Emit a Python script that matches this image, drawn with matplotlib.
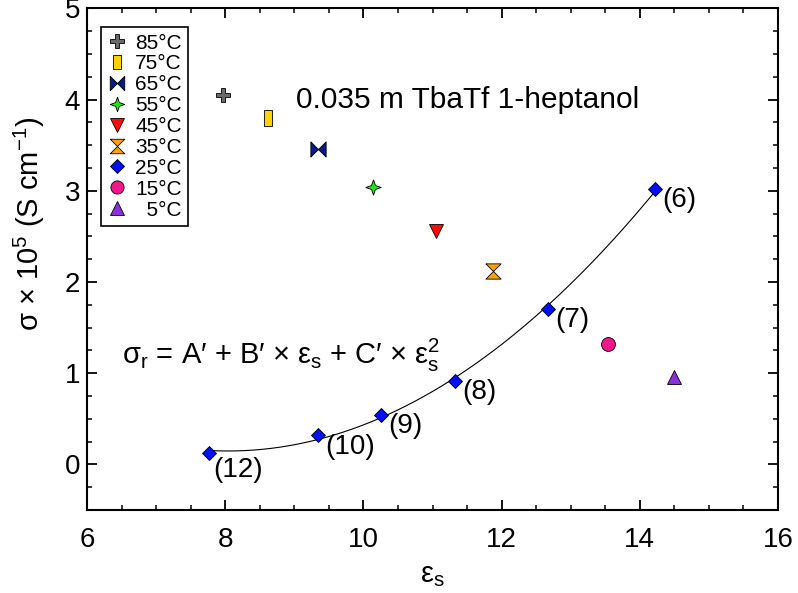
#!/usr/bin/env python3
"""
Conductivity of 0.035 m TbaTf in 1-heptanol against solvent permittivity,
with the 25 °C n-alkanol series and its quadratic fit.

Output: out.png
"""

import matplotlib
matplotlib.use("Agg")
import matplotlib.pyplot as plt
from matplotlib.ticker import MultipleLocator
import numpy as np

# ---- data ------------------------------------------------------------------
# single-temperature points for 1-heptanol
temp_labels = ["85°C", "75°C", "65°C", "55°C", "45°C", "35°C", "15°C", "  5°C"]
temp_eps    = [7.97, 8.62, 9.35, 10.14, 11.05, 11.87, 13.54, 14.49]
temp_sigma  = [4.05, 3.80, 3.46, 3.04, 2.56, 2.12, 1.32, 0.96]

# 25 °C series, one point per 1-alkanol (carbon number)
chain_labels = ["(6)", "(7)", "(8)", "(9)", "(10)", "(12)"]
alk_eps      = [14.22, 12.67, 11.32, 10.25, 9.34, 7.76]
alk_sigma    = [3.02, 1.705, 0.912, 0.544, 0.318, 0.124]

x_ticks = [6, 8, 10, 12, 14, 16]
y_ticks = [0, 1, 2, 3, 4, 5]

# ---- marker shapes ---------------------------------------------------------
BAR       = [(-0.5, -1), (0.5, -1), (0.5, 1), (-0.5, 1), (-0.5, -1)]
BOWTIE    = [(-1, -1), (-1, 1), (0, 0), (1, 1), (1, -1), (0, 0), (-1, -1)]
HOURGLASS = [(-1, 1), (1, 1), (0, 0), (1, -1), (-1, -1), (0, 0), (-1, 1)]
STAR4     = [(0, 1), (0.26, 0.26), (1, 0), (0.26, -0.26), (0, -1),
             (-0.26, -0.26), (-1, 0), (-0.26, 0.26), (0, 1)]

temp_styles = [
    dict(marker="P", color="#6a6a6a", ms=10.5),
    dict(marker=BAR, color="#ffd200", ms=11),
    dict(marker=BOWTIE, color="#0a1a85", ms=11),
    dict(marker=STAR4, color="#1fe51f", ms=11),
    dict(marker="v", color="#ff0a0a", ms=10.5),
    dict(marker=HOURGLASS, color="#ffa200", ms=11),
    dict(marker="o", color="#f0178a", ms=10),
    dict(marker="^", color="#8a32d8", ms=10),
]
alk_style = dict(marker="D", color="#0010f5", ms=7.6)

plt.rcParams.update({
    "font.family":       ["Liberation Sans", "DejaVu Sans"],
    "mathtext.default":  "regular",
    "axes.linewidth":    1.5,
    "xtick.direction":   "in",
    "ytick.direction":   "in",
    "xtick.top":         True,
    "ytick.right":       True,
    "xtick.major.size":  7.2,
    "ytick.major.size":  7.2,
    "xtick.minor.size":  3.3,
    "ytick.minor.size":  3.3,
    "xtick.major.width": 1.3,
    "ytick.major.width": 1.3,
    "xtick.minor.width": 1.1,
    "ytick.minor.width": 1.1,
    "xtick.labelsize":   20,
    "ytick.labelsize":   20,
})

fig = plt.figure(figsize=(7.98, 5.93), dpi=100)
ax = fig.add_axes([0.109, 0.140, 0.866, 0.8457])

# ---- fit through the 25 °C alkanol series ---------------------------------
coef = np.polyfit(alk_eps, alk_sigma, 2)
xf = np.linspace(min(alk_eps), max(alk_eps), 200)
ax.plot(xf, np.polyval(coef, xf), color="black", lw=0.8, zorder=2)

handles = []
for i, (lab, st) in enumerate(zip(temp_labels, temp_styles)):
    h, = ax.plot(temp_eps[i], temp_sigma[i], ls="none", marker=st["marker"],
                 ms=st["ms"], mfc=st["color"], mec="black", mew=0.6,
                 label=lab, zorder=3)
    handles.append(h)

h25, = ax.plot(alk_eps, alk_sigma, ls="none", marker=alk_style["marker"],
               ms=alk_style["ms"], mfc=alk_style["color"], mec="black",
               mew=0.6, label="25°C", zorder=3)
handles.insert(6, h25)

for lab, x, y in zip(chain_labels, alk_eps, alk_sigma):
    off = (3, -12) if lab == "(12)" else (5.5, -8)
    ax.annotate(lab, (x, y), xytext=off, textcoords="offset points",
                ha="left", va="center", fontsize=20)

ax.text(9.02, 4.0, "0.035 m TbaTf 1-heptanol", fontsize=21.5,
        ha="left", va="center")
ax.text(6.5, 1.2,
        "σ$_{r}$ = A′ + B′ × ε$_{s}$ + C′ × ε$_{s}^{2}$",
        fontsize=21, ha="left", va="center")

leg = ax.legend(handles=handles, loc="upper left",
                bbox_to_anchor=(0.0198, 0.9625), borderaxespad=0,
                fontsize=15, labelspacing=0.09, handlelength=1.0,
                handletextpad=0.35, borderpad=0.3, markerscale=0.95,
                fancybox=False, framealpha=1, edgecolor="black")
leg.get_frame().set_linewidth(1.2)

ax.set_xlim(6, 16)
ax.set_ylim(-0.5, 5)
ax.set_xticks(x_ticks)
ax.set_yticks(y_ticks)
ax.xaxis.set_minor_locator(MultipleLocator(0.5))
ax.yaxis.set_minor_locator(MultipleLocator(0.25))
ax.tick_params(axis="x", which="major", pad=12)
ax.tick_params(axis="y", which="major", pad=5)

ax.set_xlabel("ε$_{s}$", fontsize=21, labelpad=6)
ax.set_ylabel("σ × 10$^{5}$ (S cm$^{-1}$)", fontsize=21)
ax.yaxis.set_label_coords(-0.058, 0.57)

fig.savefig("out.png", dpi=100)
